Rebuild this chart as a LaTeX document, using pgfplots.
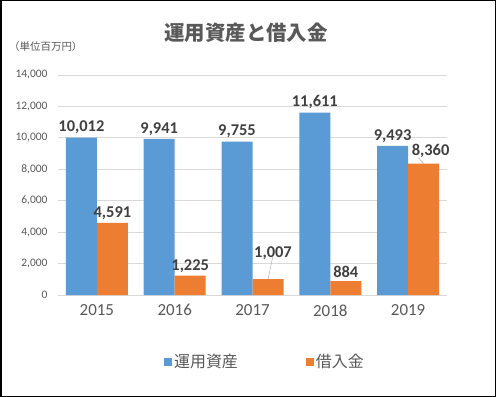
\documentclass[border=0pt]{standalone}
\usepackage{pgfplots}
\pgfplotsset{compat=1.18}
\usepackage{pgfplotstable}
\usepackage{fontspec}
\setmainfont{Carlito}
\newfontfamily\jp{Noto Sans CJK JP}
\definecolor{cblue}{HTML}{5B9BD5}
\definecolor{corange}{HTML}{ED7D31}
\definecolor{txt}{HTML}{595959}
\definecolor{lbl}{HTML}{404040}
\definecolor{gridc}{HTML}{D9D9D9}
\pgfplotstableread{
x y dx dy
0 10012 0 0
1 9941 0 0
2 9755 0 0
3 11611 0 0
4 9493 0 0
}\assets
\pgfplotstableread{
x y dx dy
0 4591 0 0
1 1225 0 0
2 1007 5 16
3 884 0 0
4 8360 7 2
}\loans
\begin{document}
\begin{tikzpicture}
\useasboundingbox (0bp,0bp) rectangle (496bp,397bp);
\fill[white] (0bp,0bp) rectangle (496bp,397bp);
\node[font=\jp\bfseries\fontsize{20.5}{24}\selectfont, text=txt] at (246bp,364bp) {運用資産と借入金};
\node[font=\jp\fontsize{10.5}{12}\selectfont, text=txt, anchor=west, inner sep=0pt] at (9bp,350bp) {（単位百万円）};
\begin{axis}[
  at={(58bp,102bp)}, anchor=south west, scale only axis,
  width=389bp, height=220bp,
  ybar=0pt, bar width=31bp,
  xmin=-0.5, xmax=4.5, ymin=0, ymax=14000,
  xtick={0,1,2,3,4}, xticklabels={2015,2016,2017,2018,2019},
  ytick={0,2000,...,14000},
  /pgf/number format/1000 sep={,},
  /pgf/number format/assume math mode=true,
  scaled y ticks=false,
  axis line style={draw=none},
  major tick length=0pt,
  ymajorgrids, major grid style={gridc, line width=0.75bp},
  yticklabel style={font=\fontsize{11.5}{13}\selectfont, text=txt, xshift=-7bp},
  xticklabel style={font=\fontsize{17}{20}\selectfont, text=txt, yshift=-6bp},
  nodes near coords,
  visualization depends on={\thisrow{dx} \as \ddx},
  visualization depends on={\thisrow{dy} \as \ddy},
  every node near coord/.append style={font=\bfseries\fontsize{16.5}{19}\selectfont, text=lbl, xshift=\ddx bp, yshift=\ddy bp},
  legend style={draw=none, fill=none, legend columns=2, at={(0.532,-0.3045)}, anchor=center,
    font=\jp\fontsize{16}{19}\selectfont, text=txt,
    /tikz/every even column/.append style={column sep=66bp}},
  legend image code/.code={\fill[#1] (0bp,-4bp) rectangle (8bp,4bp);},
  clip=false,
]
\addplot[fill=cblue, draw=none] table[x=x, y=y] {\assets};
\addlegendentry{運用資産}
\addplot[fill=corange, draw=none] table[x=x, y=y] {\loans};
\addlegendentry{借入金}
\draw[gray!60, line width=0.5bp] (axis cs:2.26,2420) -- (axis cs:2.2,1007);
\draw[gray!60, line width=0.5bp] (axis cs:4.13,8760) -- (axis cs:4.2,8360);
\end{axis}
\draw[black, line width=1.5bp] (0.75bp,0.75bp) rectangle (495.25bp,396.25bp);
\end{tikzpicture}
\end{document}
